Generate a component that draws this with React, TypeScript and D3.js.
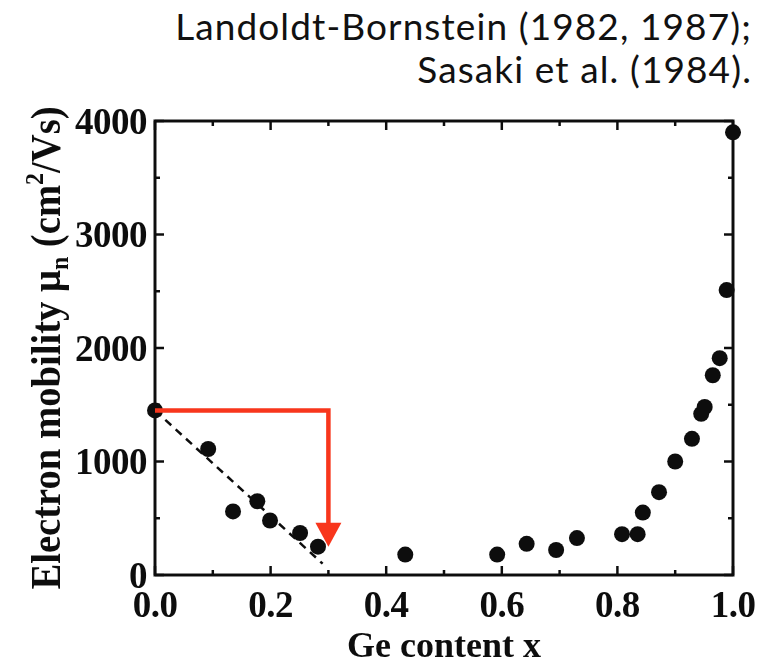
import React from "react";
import * as d3 from "d3";

// Electron mobility in Si(1-x)Ge(x) alloys vs. Ge content
const geContent = [0, 0.092, 0.135, 0.177, 0.199, 0.251, 0.282, 0.433, 0.592, 0.643, 0.694, 0.73, 0.808, 0.835, 0.844, 0.872, 0.9, 0.929, 0.945, 0.951, 0.965, 0.977, 0.989, 1.0];
const mobility = [1450, 1110, 560, 650, 480, 370, 250, 180, 180, 275, 220, 325, 360, 360, 550, 730, 1000, 1200, 1420, 1480, 1760, 1910, 2510, 3900];

// Linear trend on the Si-rich side
const trendX = [0, 0.29];
const trendY = [1450, 100];

// Arrow: from Si mobility over to x = 0.3, then down
const arrowX = [0, 0.3, 0.3];
const arrowY = [1450, 1450, 250];

const xTicks = [0, 0.2, 0.4, 0.6, 0.8, 1.0];
const xMinor = [0.1, 0.3, 0.5, 0.7, 0.9];
const yTicks = [0, 1000, 2000, 3000, 4000];
const yMinor = [500, 1500, 2500, 3500];

const sourceLines = ["Landoldt-Bornstein (1982, 1987);", "Sasaki et al. (1984)."];

const W = 772;
const H = 667;
const plot = { left: 155, right: 733, top: 121, bottom: 575 };

export default function App() {
  const x = d3.scaleLinear().domain([0, 1]).range([plot.left, plot.right]);
  const y = d3.scaleLinear().domain([0, 4000]).range([plot.bottom, plot.top]);

  const trend = d3.line<number>().x((d) => x(d)).y((_, i) => y(trendY[i]))(trendX) || "";

  const headTipY = y(arrowY[2]);
  const headX = x(arrowX[2]);
  const headLen = 24;
  const shaftPts: [number, number][] = [
    [x(arrowX[0]), y(arrowY[0])],
    [x(arrowX[1]), y(arrowY[1])],
    [headX, headTipY - headLen + 2],
  ];
  const shaft = d3.line()(shaftPts) || "";

  const serif = "'Liberation Serif', 'DejaVu Serif', serif";
  const tickFont = { fontFamily: serif, fontWeight: 700, fontSize: 37 } as const;

  const major = 9;
  const minor = 5;

  return (
    <svg width={W} height={H} style={{ position: "absolute", left: 0, top: 0, background: "#fff" }}>
      <defs>
        <filter id="soft" x="-5%" y="-5%" width="110%" height="110%">
          <feGaussianBlur stdDeviation="0.6" />
        </filter>
      </defs>

      {/* source reference */}
      <g fontFamily="Lato, 'Open Sans', sans-serif" fontSize={37} letterSpacing={1.1} fill="#111" textAnchor="end">
        {sourceLines.map((s, i) => (
          <text key={i} x={752} y={40 + i * 43}>{s}</text>
        ))}
      </g>

      <g filter="url(#soft)">
        {/* frame */}
        <rect x={plot.left} y={plot.top} width={plot.right - plot.left} height={plot.bottom - plot.top} fill="none" stroke="#111" strokeWidth={3} />

        {/* x ticks, bottom and top, pointing inward */}
        {xTicks.map((t) => (
          <g key={"xt" + t} stroke="#111" strokeWidth={2.5}>
            <line x1={x(t)} x2={x(t)} y1={plot.bottom} y2={plot.bottom - major} />
            <line x1={x(t)} x2={x(t)} y1={plot.top} y2={plot.top + major} />
          </g>
        ))}
        {xMinor.map((t) => (
          <g key={"xm" + t} stroke="#111" strokeWidth={2.5}>
            <line x1={x(t)} x2={x(t)} y1={plot.bottom} y2={plot.bottom - minor} />
            <line x1={x(t)} x2={x(t)} y1={plot.top} y2={plot.top + minor} />
          </g>
        ))}
        {yTicks.map((t) => (
          <g key={"yt" + t} stroke="#111" strokeWidth={2.5}>
            <line x1={plot.left} x2={plot.left + major} y1={y(t)} y2={y(t)} />
            <line x1={plot.right} x2={plot.right - major} y1={y(t)} y2={y(t)} />
          </g>
        ))}
        {yMinor.map((t) => (
          <g key={"ym" + t} stroke="#111" strokeWidth={2.5}>
            <line x1={plot.left} x2={plot.left + minor} y1={y(t)} y2={y(t)} />
            <line x1={plot.right} x2={plot.right - minor} y1={y(t)} y2={y(t)} />
          </g>
        ))}

        {/* tick labels */}
        {xTicks.map((t) => (
          <text key={"xl" + t} x={x(t)} y={plot.bottom + 42} textAnchor="middle" letterSpacing={-0.5} fill="#111" {...tickFont}>
            {d3.format(".1f")(t)}
          </text>
        ))}
        {yTicks.map((t) => (
          <text key={"yl" + t} x={plot.left - 8} y={y(t) + 12.5} textAnchor="end" letterSpacing={-0.5} fill="#111" {...tickFont}>
            {t}
          </text>
        ))}

        {/* axis titles */}
        <text x={444} y={657} textAnchor="middle" fill="#111" fontFamily={serif} fontWeight={700} fontSize={36}>
          Ge content x
        </text>
        <text transform="translate(60, 348) rotate(-90) scale(0.92, 1)" textAnchor="middle" fill="#111" fontFamily={serif} fontWeight={700} fontSize={42}>
          Electron mobility μ
          <tspan fontSize={26} dy={8}>n</tspan>
          <tspan dy={-8}> (cm</tspan>
          <tspan fontSize={26} dy={-17}>2</tspan>
          <tspan dy={17}>/Vs)</tspan>
        </text>

        {/* trend line */}
        <path d={trend} fill="none" stroke="#111" strokeWidth={2.5} strokeDasharray="8 6" />

        {/* data */}
        {geContent.map((g, i) => (
          <circle key={i} cx={x(g)} cy={y(mobility[i])} r={8} fill="#111" />
        ))}
      </g>

      {/* red arrow */}
      <path d={shaft} fill="none" stroke="#f8361c" strokeWidth={4.5} strokeLinejoin="miter" />
      <path d={`M${headX - 13},${headTipY - headLen} L${headX + 13},${headTipY - headLen} L${headX},${headTipY} Z`} fill="#f8361c" />
    </svg>
  );
}
